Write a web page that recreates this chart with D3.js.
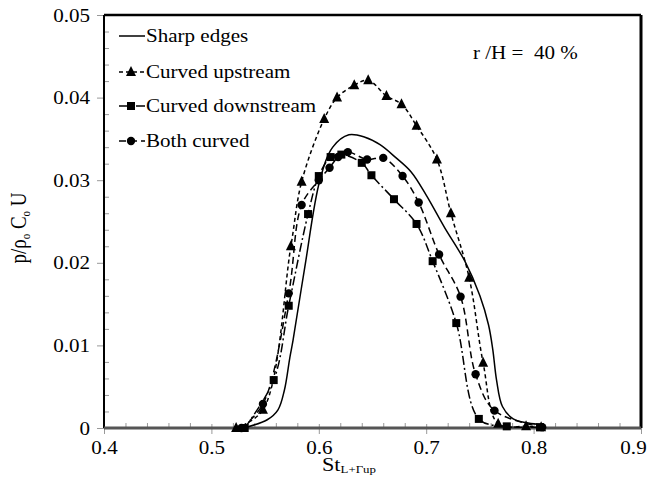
<!DOCTYPE html>
<html><head><meta charset="utf-8">
<script src="https://cdn.jsdelivr.net/npm/d3@7"></script>
<style>body{margin:0;background:#fff}</style>
</head><body><svg id="c" width="653" height="479"></svg>
<script>
const xTicks = [0.4,0.5,0.6,0.7,0.8,0.9];
const yTicks = [0,0.01,0.02,0.03,0.04,0.05];
const seriesNames = ["Sharp edges","Curved upstream","Curved downstream","Both curved"];
const sharpX = [0.530,0.552,0.562,0.568,0.573,0.576,0.587,0.601,0.613,0.628,0.643,0.657,0.672,0.686,0.700,0.717,0.736,0.750,0.758,0.762,0.7655,0.771,0.781,0.795,0.808];
const sharpY = [0,0.001,0.0022,0.0046,0.0085,0.0106,0.0195,0.030,0.034,0.0355,0.0352,0.0343,0.0327,0.031,0.0282,0.0243,0.0202,0.016,0.0125,0.0095,0.0058,0.0026,0.0011,0.0006,0.0004];
const upX = [0.523,0.548,0.574,0.584,0.605,0.617,0.633,0.646,0.663,0.677,0.691,0.710,0.723,0.740,0.753,0.767,0.793,0.807];
const upY = [0,0.0022,0.022,0.0298,0.0374,0.040,0.0415,0.0421,0.0402,0.0392,0.0366,0.0325,0.026,0.0182,0.0079,0.0005,0.0002,0.0001];
const downX = [0.531,0.558,0.572,0.590,0.600,0.611,0.621,0.640,0.649,0.670,0.691,0.706,0.728,0.749,0.775,0.806];
const downY = [0,0.0058,0.0148,0.0259,0.0305,0.0328,0.0331,0.0321,0.0306,0.0277,0.0247,0.0202,0.0127,0.0011,0.0002,0.0001];
const bothX = [0.528,0.548,0.572,0.584,0.600,0.610,0.618,0.627,0.645,0.660,0.678,0.693,0.712,0.732,0.746,0.7636,0.808];
const bothY = [0,0.0029,0.0163,0.027,0.030,0.0315,0.0328,0.0334,0.0325,0.0327,0.0305,0.0273,0.021,0.0159,0.0065,0.0021,0.0001];

const SX = 1.17, FONT = "'Liberation Serif','Times New Roman',serif";
const m = {l:104, t:15, r:12, b:51};
const W = 653 - m.l - m.r, H = 479 - m.t - m.b;
const svg = d3.select("#c");
const g = svg.append("g").attr("transform",`translate(${m.l},${m.t})`);
const x = d3.scaleLinear().domain([0.4,0.9]).range([0,W]);
const y = d3.scaleLinear().domain([0,0.05]).range([H,0]);

// minor ticks (inside)
const xMinor = d3.range(0.42,0.9,0.02).filter(v=>Math.abs(v*10-Math.round(v*10))>1e-6);
const yMinor = d3.range(0.002,0.05,0.002).filter(v=>Math.abs(v*100-Math.round(v*100))>1e-6);
g.append("g").attr("transform",`translate(0,${H})`)
  .call(d3.axisBottom(x).tickValues(xMinor).tickSize(-5).tickFormat(""))
  .call(a=>{a.select(".domain").remove();a.selectAll("line").attr("stroke","#999").attr("stroke-width",1);});
g.append("g")
  .call(d3.axisLeft(y).tickValues(yMinor).tickSize(-5).tickFormat(""))
  .call(a=>{a.select(".domain").remove();a.selectAll("line").attr("stroke","#999").attr("stroke-width",1);});

// major axes
const xa = g.append("g").attr("transform",`translate(0,${H})`)
  .call(d3.axisBottom(x).tickValues(xTicks).tickSize(6).tickPadding(0).tickFormat(d3.format(".1f")));
xa.select(".domain").remove();
xa.selectAll("line").attr("stroke","#999").attr("y1",-4);
xa.selectAll("text").attr("font-family",FONT).attr("font-size",18).attr("fill","#000")
  .attr("dy",null).attr("y",0)
  .attr("transform",d=>`translate(${d===0.9?-8:0},26) scale(${SX},1)`);
const ya = g.append("g")
  .call(d3.axisLeft(y).tickValues(yTicks).tickSize(7).tickPadding(0).tickFormat(d=>d===0?"0":d3.format(".2f")(d)));
ya.select(".domain").remove();
ya.selectAll("line").attr("stroke","#999").attr("x2",-7);
ya.selectAll("text").attr("font-family",FONT).attr("font-size",18).attr("fill","#000")
  .attr("dy",null).attr("x",0).attr("transform","translate(-14,6) scale("+SX+",1)");

// frame
g.append("line").attr("x1",0).attr("x2",W).attr("y1",0).attr("y2",0).attr("stroke","#000").attr("stroke-width",2.5);
g.append("line").attr("x1",W).attr("x2",W).attr("y1",0).attr("y2",H).attr("stroke","#000").attr("stroke-width",3);
g.append("line").attr("x1",0).attr("x2",0).attr("y1",0).attr("y2",H).attr("stroke","#000").attr("stroke-width",2);
g.append("line").attr("x1",0).attr("x2",W).attr("y1",H).attr("y2",H).attr("stroke","#555").attr("stroke-width",3);

const styles = [
  {xs:sharpX, ys:sharpY, dash:null, marker:null},
  {xs:upX, ys:upY, dash:"4,3", marker:"tri"},
  {xs:downX, ys:downY, dash:"9,3,2,3", marker:"sq"},
  {xs:bothX, ys:bothY, dash:"7,4", marker:"cir"}
];
const line = d3.line().x(d=>x(d[0])).y(d=>y(d[1])).curve(d3.curveCatmullRom.alpha(0.5));
function marker(sel, type, cx, cy){
  if(type==="tri") sel.append("path").attr("d",`M${cx},${cy-6}L${cx+5},${cy+4}L${cx-5},${cy+4}Z`).attr("fill","#000");
  else if(type==="sq") sel.append("rect").attr("x",cx-4).attr("y",cy-4).attr("width",8).attr("height",8).attr("fill","#000");
  else if(type==="cir") sel.append("circle").attr("cx",cx).attr("cy",cy).attr("r",4.2).attr("fill","#000");
}
styles.forEach(s=>{
  const pts = s.xs.map((v,i)=>[v,s.ys[i]]);
  g.append("path").datum(pts).attr("d",line).attr("fill","none").attr("stroke","#000")
    .attr("stroke-width",1.5).attr("stroke-dasharray",s.dash);
  if(s.marker){ const mg=g.append("g"); pts.forEach(p=>marker(mg,s.marker,x(p[0]),y(p[1]))); }
});

// legend
const legRows = [36,72,106,141];
styles.forEach((s,i)=>{
  const ly = legRows[i];
  svg.append("line").attr("x1",119).attr("x2",145).attr("y1",ly).attr("y2",ly)
    .attr("stroke","#000").attr("stroke-width",1.5).attr("stroke-dasharray",s.dash);
  if(s.marker) marker(svg,s.marker,131,ly);
  svg.append("text").attr("font-family",FONT).attr("font-size",18)
    .attr("transform",`translate(146,${ly+6}) scale(${SX},1)`).text(seriesNames[i]);
});

// annotation
svg.append("text").attr("font-family",FONT).attr("font-size",18)
  .attr("transform",`translate(473,59) scale(${SX},1)`).attr("xml:space","preserve").text("r /H =  40 %");

// x title
const xt = svg.append("text").attr("font-family",FONT).attr("font-size",19)
  .attr("transform",`translate(322,471) scale(${SX},1)`);
xt.append("tspan").text("St");
xt.append("tspan").attr("font-size",11).attr("dy",2).text("L+Γup");

// y title
const yt = svg.append("text").attr("font-family",FONT).attr("font-size",19).attr("text-anchor","middle")
  .attr("transform",`translate(26,228) rotate(-90) scale(1,${SX})`);
yt.append("tspan").text("p/ρ");
yt.append("tspan").attr("font-size",11).attr("dy",3).text("o");
yt.append("tspan").attr("dy",-3).text(" C");
yt.append("tspan").attr("font-size",11).attr("dy",3).text("o");
yt.append("tspan").attr("dy",-3).text(" U");
</script></body></html>
